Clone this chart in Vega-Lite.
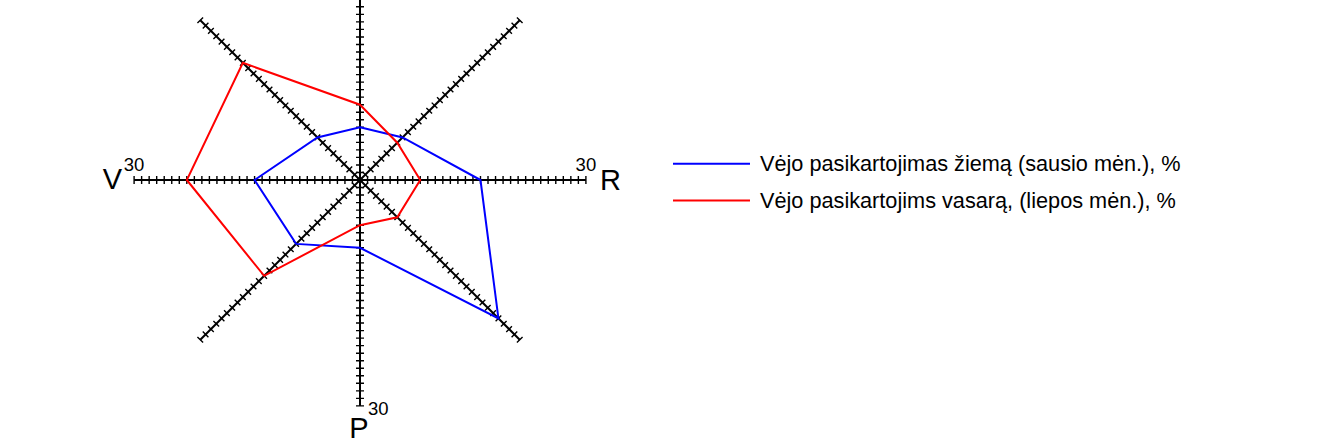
{
  "$schema": "https://vega.github.io/schema/vega-lite/v6.json",
  "width": 1321,
  "height": 446,
  "autosize": {"type": "none"},
  "padding": 0,
  "background": "white",
  "config": {"view": {"stroke": null}, "font": "Liberation Sans"},
  "datasets": {
    "wind": [
      {"series": "Vėjo pasikartojimas žiemą (sausio mėn.), %", "dir": "Š", "deg": 0, "value": 7},
      {"series": "Vėjo pasikartojimas žiemą (sausio mėn.), %", "dir": "ŠR", "deg": 45, "value": 8},
      {"series": "Vėjo pasikartojimas žiemą (sausio mėn.), %", "dir": "R", "deg": 90, "value": 16},
      {"series": "Vėjo pasikartojimas žiemą (sausio mėn.), %", "dir": "PR", "deg": 135, "value": 26},
      {"series": "Vėjo pasikartojimas žiemą (sausio mėn.), %", "dir": "P", "deg": 180, "value": 9},
      {"series": "Vėjo pasikartojimas žiemą (sausio mėn.), %", "dir": "PV", "deg": 225, "value": 12},
      {"series": "Vėjo pasikartojimas žiemą (sausio mėn.), %", "dir": "V", "deg": 270, "value": 14},
      {"series": "Vėjo pasikartojimas žiemą (sausio mėn.), %", "dir": "ŠV", "deg": 315, "value": 8},
      {"series": "Vėjo pasikartojims vasarą, (liepos mėn.), %", "dir": "Š", "deg": 0, "value": 10},
      {"series": "Vėjo pasikartojims vasarą, (liepos mėn.), %", "dir": "ŠR", "deg": 45, "value": 7},
      {"series": "Vėjo pasikartojims vasarą, (liepos mėn.), %", "dir": "R", "deg": 90, "value": 8},
      {"series": "Vėjo pasikartojims vasarą, (liepos mėn.), %", "dir": "PR", "deg": 135, "value": 7},
      {"series": "Vėjo pasikartojims vasarą, (liepos mėn.), %", "dir": "P", "deg": 180, "value": 6},
      {"series": "Vėjo pasikartojims vasarą, (liepos mėn.), %", "dir": "PV", "deg": 225, "value": 18},
      {"series": "Vėjo pasikartojims vasarą, (liepos mėn.), %", "dir": "V", "deg": 270, "value": 23},
      {"series": "Vėjo pasikartojims vasarą, (liepos mėn.), %", "dir": "ŠV", "deg": 315, "value": 22}
    ],
    "axes": [
      {"dir": "Š", "deg": 0, "len": 30},
      {"dir": "ŠR", "deg": 45, "len": 30},
      {"dir": "R", "deg": 90, "len": 30},
      {"dir": "PR", "deg": 135, "len": 30},
      {"dir": "P", "deg": 180, "len": 30},
      {"dir": "PV", "deg": 225, "len": 30},
      {"dir": "V", "deg": 270, "len": 30},
      {"dir": "ŠV", "deg": 315, "len": 30}
    ]
  },
  "encoding": {
    "x": {"type": "quantitative", "scale": {"domain": [-47.809, 127.623], "nice": false, "zero": false}, "axis": null},
    "y": {"type": "quantitative", "scale": {"domain": [-35.325, 23.904], "nice": false, "zero": false}, "axis": null}
  },
  "layer": [
    {
      "data": {"name": "axes"},
      "transform": [
        {"calculate": "0", "as": "c"},
        {"calculate": "datum.len * sin(datum.deg * PI / 180)", "as": "ex"},
        {"calculate": "datum.len * cos(datum.deg * PI / 180)", "as": "ey"}
      ],
      "mark": {"type": "rule", "stroke": "black", "strokeWidth": 2},
      "encoding": {
        "x": {"field": "c", "type": "quantitative"},
        "y": {"field": "c", "type": "quantitative"},
        "x2": {"field": "ex"},
        "y2": {"field": "ey"}
      }
    },
    {
      "data": {"name": "axes"},
      "transform": [
        {"calculate": "0", "as": "c"},
        {"calculate": "(datum.len + 0.15) * sin(datum.deg * PI / 180)", "as": "ex"},
        {"calculate": "(datum.len + 0.15) * cos(datum.deg * PI / 180)", "as": "ey"}
      ],
      "mark": {"type": "rule", "stroke": "black", "strokeWidth": 8, "strokeDash": [1.4, 6.13], "strokeDashOffset": 0.7},
      "encoding": {
        "x": {"field": "c", "type": "quantitative"},
        "y": {"field": "c", "type": "quantitative"},
        "x2": {"field": "ex"},
        "y2": {"field": "ey"}
      }
    },
    {
      "data": {"name": "wind"},
      "transform": [
        {"calculate": "datum.value * sin(datum.deg * PI / 180)", "as": "px"},
        {"calculate": "datum.value * cos(datum.deg * PI / 180)", "as": "py"}
      ],
      "mark": {"type": "line", "interpolate": "linear-closed", "strokeWidth": 2},
      "encoding": {
        "x": {"field": "px", "type": "quantitative"},
        "y": {"field": "py", "type": "quantitative"},
        "order": {"field": "deg", "type": "quantitative"},
        "color": {
          "field": "series",
          "type": "nominal",
          "scale": {
            "domain": ["Vėjo pasikartojimas žiemą (sausio mėn.), %", "Vėjo pasikartojims vasarą, (liepos mėn.), %"],
            "range": ["#0000ff", "#ff0000"]
          },
          "legend": {
            "orient": "none",
            "legendX": 691,
            "legendY": 143.3,
            "title": null,
            "symbolType": "M-2,0H2",
            "symbolSize": 1482,
            "symbolStrokeWidth": 2,
            "labelFontSize": 21.7,
            "labelColor": "black",
            "labelOffset": 28,
            "labelLimit": 0,
            "rowPadding": 3.7
          }
        }
      }
    },
    {
      "data": {"values": [{"t": "V", "deg": 270, "len": 30}]},
      "transform": [
        {"calculate": "datum.len * sin(datum.deg * PI / 180)", "as": "ex"},
        {"calculate": "datum.len * cos(datum.deg * PI / 180)", "as": "ey"}
      ],
      "mark": {"type": "text", "align": "right", "baseline": "alphabetic", "dx": -12, "dy": 9, "fontSize": 29, "color": "black"},
      "encoding": {"x": {"field": "ex", "type": "quantitative"}, "y": {"field": "ey", "type": "quantitative"}, "text": {"field": "t"}}
    },
    {
      "data": {"values": [{"t": "R", "deg": 90, "len": 30}]},
      "transform": [
        {"calculate": "datum.len * sin(datum.deg * PI / 180)", "as": "ex"},
        {"calculate": "datum.len * cos(datum.deg * PI / 180)", "as": "ey"}
      ],
      "mark": {"type": "text", "align": "left", "baseline": "alphabetic", "dx": 14, "dy": 10, "fontSize": 29, "color": "black"},
      "encoding": {"x": {"field": "ex", "type": "quantitative"}, "y": {"field": "ey", "type": "quantitative"}, "text": {"field": "t"}}
    },
    {
      "data": {"values": [{"t": "P", "deg": 180, "len": 30}]},
      "transform": [
        {"calculate": "datum.len * sin(datum.deg * PI / 180)", "as": "ex"},
        {"calculate": "datum.len * cos(datum.deg * PI / 180)", "as": "ey"}
      ],
      "mark": {"type": "text", "align": "center", "baseline": "alphabetic", "dx": -1, "dy": 32, "fontSize": 29, "color": "black"},
      "encoding": {"x": {"field": "ex", "type": "quantitative"}, "y": {"field": "ey", "type": "quantitative"}, "text": {"field": "t"}}
    },
    {
      "data": {"values": [{"t": "30", "deg": 270, "len": 30}, {"t": "30", "deg": 90, "len": 30}]},
      "transform": [
        {"calculate": "datum.len * sin(datum.deg * PI / 180)", "as": "ex"},
        {"calculate": "datum.len * cos(datum.deg * PI / 180)", "as": "ey"}
      ],
      "mark": {"type": "text", "align": "center", "baseline": "alphabetic", "dy": -9, "fontSize": 18.5, "color": "black"},
      "encoding": {"x": {"field": "ex", "type": "quantitative"}, "y": {"field": "ey", "type": "quantitative"}, "text": {"field": "t"}}
    },
    {
      "data": {"values": [{"t": "30", "deg": 180, "len": 30}]},
      "transform": [
        {"calculate": "datum.len * sin(datum.deg * PI / 180)", "as": "ex"},
        {"calculate": "datum.len * cos(datum.deg * PI / 180)", "as": "ey"}
      ],
      "mark": {"type": "text", "align": "left", "baseline": "alphabetic", "dx": 8, "dy": 9, "fontSize": 18.5, "color": "black"},
      "encoding": {"x": {"field": "ex", "type": "quantitative"}, "y": {"field": "ey", "type": "quantitative"}, "text": {"field": "t"}}
    }
  ]
}
